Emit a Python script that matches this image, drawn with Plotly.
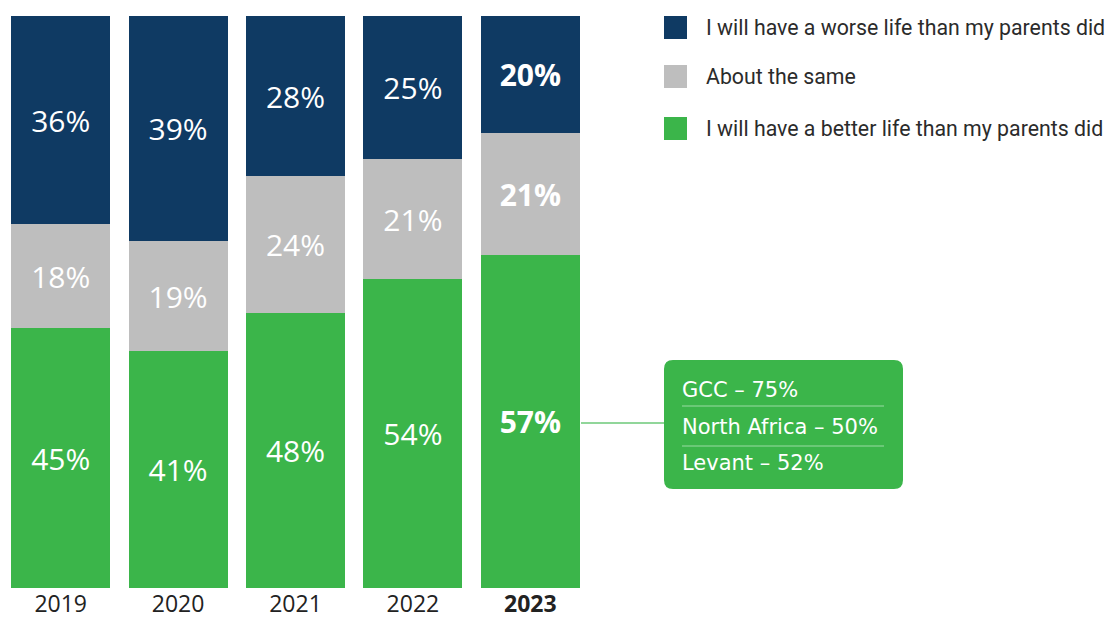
import plotly.graph_objects as go

# Survey responses by year (share of respondents, %)
years = ["2019", "2020", "2021", "2022", "2023"]
better = [45, 41, 48, 54, 57]
same = [18, 19, 24, 21, 21]
worse = [36, 39, 28, 25, 20]

series_names = [
    "I will have a worse life than my parents did",
    "About the same",
    "I will have a better life than my parents did",
]
series_colors = ["#0f3a63", "#bebebe", "#3bb54a"]

# Regional breakdown of the 2023 "better life" share
regions = ["GCC", "North Africa", "Levant"]
region_values = [75, 50, 52]

W, H = 1117, 619
FONT = "Open Sans"


def px_x(p):
    return p / W


def px_y(p):
    return 1 - p / H


def labels(values):
    out = []
    for y, v in zip(years, values):
        t = f"{v}%"
        out.append(f"<b>{t}</b>" if y == "2023" else t)
    return out


fig = go.Figure()
for vals, name, color in [(better, series_names[2], series_colors[2]),
                          (same, series_names[1], series_colors[1]),
                          (worse, series_names[0], series_colors[0])]:
    fig.add_trace(go.Bar(
        x=years, y=vals, name=name,
        marker=dict(color=color, line=dict(width=0)),
        text=labels(vals), textposition="inside", insidetextanchor="middle",
        textangle=0, textfont=dict(family=FONT, size=30, color="white"),
        hoverinfo="skip", showlegend=False,
    ))

shapes = []
annotations = []

# Legend: coloured squares with labels
legend_rows = [(16, series_names[0], series_colors[0]),
               (65, series_names[1], series_colors[1]),
               (117, series_names[2], series_colors[2])]
for top, name, color in legend_rows:
    shapes.append(dict(type="rect", xref="paper", yref="paper",
                       x0=px_x(664), x1=px_x(687), y0=px_y(top + 23), y1=px_y(top),
                       fillcolor=color, line=dict(width=0)))
    annotations.append(dict(xref="paper", yref="paper", x=px_x(704), y=px_y(top + 11.5),
                            text=name, showarrow=False, xanchor="left", yanchor="middle",
                            font=dict(family="Roboto", size=21.3, color="#2b2b2b")))

# Callout box with rounded corners
x0, x1, y0, y1, r = 664, 903, 360, 489, 9
path = (f"M {px_x(x0 + r)},{px_y(y0)} L {px_x(x1 - r)},{px_y(y0)} "
        f"Q {px_x(x1)},{px_y(y0)} {px_x(x1)},{px_y(y0 + r)} "
        f"L {px_x(x1)},{px_y(y1 - r)} Q {px_x(x1)},{px_y(y1)} {px_x(x1 - r)},{px_y(y1)} "
        f"L {px_x(x0 + r)},{px_y(y1)} Q {px_x(x0)},{px_y(y1)} {px_x(x0)},{px_y(y1 - r)} "
        f"L {px_x(x0)},{px_y(y0 + r)} Q {px_x(x0)},{px_y(y0)} {px_x(x0 + r)},{px_y(y0)} Z")
shapes.append(dict(type="path", xref="paper", yref="paper", path=path,
                   fillcolor="#3bb54a", line=dict(width=0)))

# Connector from the 2023 bar to the callout
shapes.append(dict(type="line", xref="paper", yref="paper",
                   x0=px_x(581), x1=px_x(664), y0=px_y(423), y1=px_y(423),
                   line=dict(color="#6cc879", width=1.5)))

# Dividers inside the callout
for ly in (406, 446):
    shapes.append(dict(type="line", xref="paper", yref="paper",
                       x0=px_x(682), x1=px_x(884), y0=px_y(ly), y1=px_y(ly),
                       line=dict(color="#9adba3", width=1)))

for cy, reg, val in zip((390, 427, 463), regions, region_values):
    annotations.append(dict(xref="paper", yref="paper", x=px_x(680), y=px_y(cy),
                            text=f"{reg} – {val}%", showarrow=False,
                            xanchor="left", yanchor="middle",
                            font=dict(family="DejaVu Sans", size=21, color="white")))

fig.update_layout(
    width=W, height=H,
    margin=dict(l=0, r=0, t=0, b=0),
    paper_bgcolor="white", plot_bgcolor="white",
    barmode="stack", barnorm="percent", bargap=0.158,
    xaxis=dict(domain=[px_x(2), px_x(589)], showgrid=False, zeroline=False,
               showline=False, ticks="", tickmode="array", tickvals=years,
               ticktext=[f"<b>{y}</b>" if y == "2023" else y for y in years],
               tickfont=dict(family=FONT, size=23, color="#222222"),
               ticklabelstandoff=0, automargin=False),
    yaxis=dict(domain=[1 - 588 / H, 1 - 16 / H], range=[0, 100], visible=False,
               fixedrange=True),
    shapes=shapes, annotations=annotations,
    showlegend=False,
)

fig.write_html("out.html")
